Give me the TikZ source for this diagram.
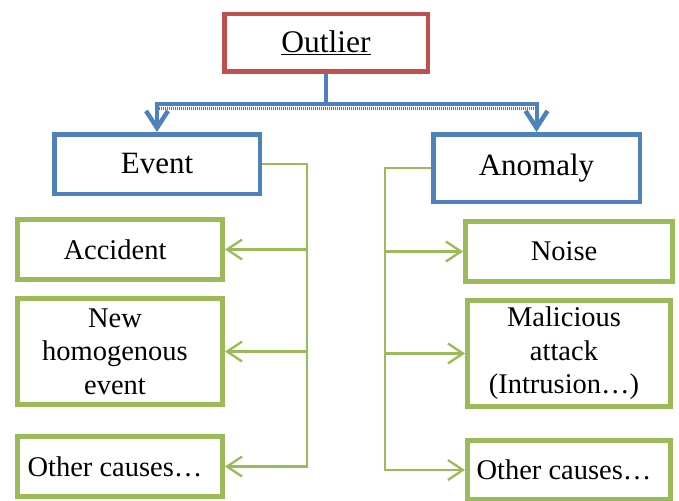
\documentclass[tikz,border=0pt]{standalone}
\usepackage{fontspec}
\setmainfont{Liberation Serif}
\usetikzlibrary{arrows.meta}
\definecolor{ored}{HTML}{C0504D}
\definecolor{oblue}{HTML}{4F81BD}
\definecolor{ogreen}{HTML}{9BBB59}
\begin{document}
\begin{tikzpicture}[x=1pt,y=-1pt,
  box/.style={draw, rectangle, align=center, inner sep=0pt, text=black},
  topbox/.style={box, draw=ored, line width=4.5pt, font=\fontsize{31.5}{36}\selectfont},
  midbox/.style={box, draw=oblue, line width=4.5pt, font=\fontsize{31}{36}\selectfont},
  subbox/.style={box, draw=ogreen, line width=5pt, font=\fontsize{28.5}{33.5}\selectfont},
  blueline/.style={draw=oblue, line width=4pt, line join=miter},
  bluearrow/.style={blueline, -{Straight Barb[length=17pt,width=22pt,line width=4.5pt]}},
  shadowline/.style={draw=black!55, line width=3pt, dash pattern=on 1pt off 1pt},
  greenarrow/.style={draw=ogreen, line width=2.3pt, line join=miter, -{Straight Barb[length=15pt,width=20pt]}}
]
\useasboundingbox (0,0) rectangle (679,500);

% top level
\node[topbox, minimum width=203.5pt, minimum height=57.5pt] (Outlier) at (326,43) {\underline{Outlier}};

% second level
\node[midbox, minimum width=205.5pt, minimum height=59.5pt] (Event) at (157,164) {Event};
\node[midbox, minimum width=206.5pt, minimum height=67.5pt] (Anomaly) at (536.5,168) {Anomaly};

% third level, left
\node[subbox, minimum width=205pt, minimum height=60pt] (Accident) at (120,249.5) {Accident\kern10pt};
\node[subbox, minimum width=205pt, minimum height=106pt] (New) at (120,351.5) {New\kern10pt\\homogenous\kern10pt\\event\kern10pt};
\node[subbox, minimum width=205pt, minimum height=60pt] (Other1) at (120,466.5) {Other causes\ldots\kern10pt};

% third level, right
\node[subbox, minimum width=207pt, minimum height=60pt] (Noise) at (569,251.5) {Noise\kern10pt};
\node[subbox, minimum width=203pt, minimum height=106pt] (Malicious) at (569,353.5) {Malicious\kern10pt\\attack\kern10pt\\(Intrusion\ldots)\kern10pt};
\node[subbox, minimum width=203pt, minimum height=59pt] (Other2) at (569,470) {Other causes\ldots\kern10pt};

% blue connector
\coordinate (hub) at (326,104);
\draw[shadowline] ([yshift=-4.5pt]hub -| Event.north) -- ([yshift=-4.5pt]hub -| Anomaly.north);
\draw[blueline] (Outlier.south) -- (hub);
\draw[bluearrow] (hub) -| (Event.north);
\draw[bluearrow] (hub) -| (Anomaly.north);

% green connectors, left
\coordinate (L1) at (307,0);
\draw[greenarrow] (Event.east) -| (Other1.east -| L1) -- (Other1.east);
\draw[greenarrow] (Accident.east -| L1) -- (Accident.east);
\draw[greenarrow] (New.east -| L1) -- (New.east);

% green connectors, right
\coordinate (R1) at (385,0);
\draw[greenarrow] (Anomaly.west) -| (Other2.west -| R1) -- (Other2.west);
\draw[greenarrow] (Noise.west -| R1) -- (Noise.west);
\draw[greenarrow] (Malicious.west -| R1) -- (Malicious.west);
\end{tikzpicture}
\end{document}
